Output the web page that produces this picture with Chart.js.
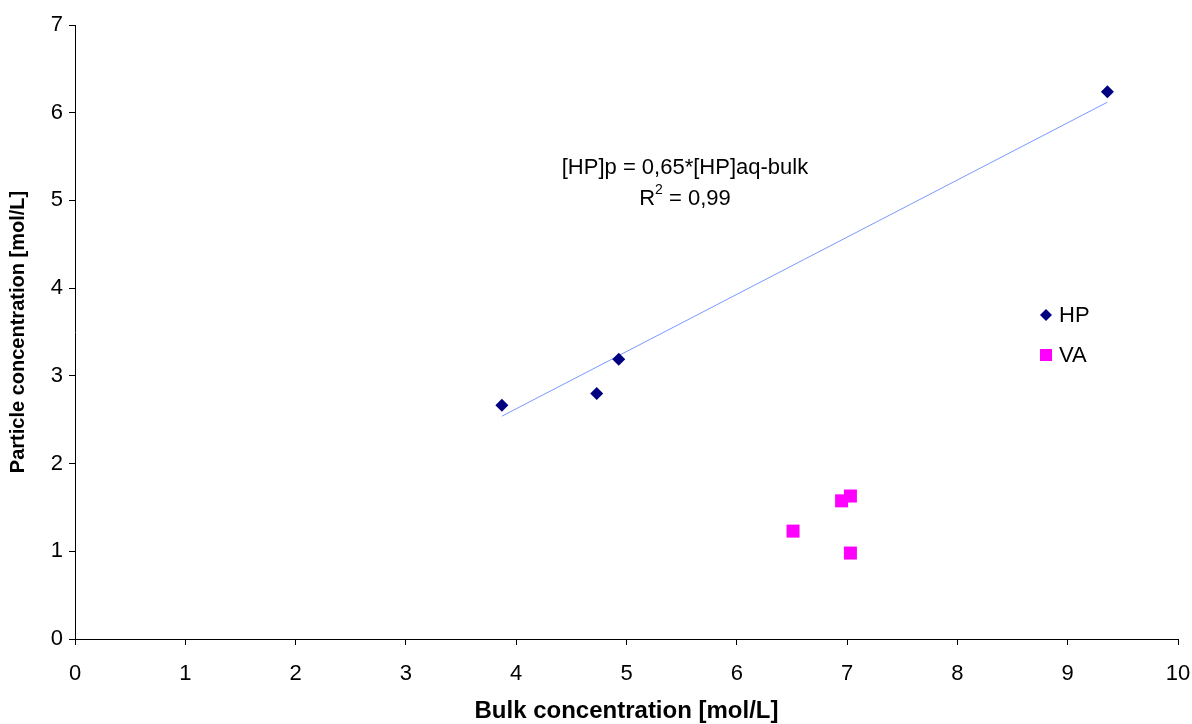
<!DOCTYPE html>
<html><head><meta charset="utf-8">
<script src="https://cdn.jsdelivr.net/npm/chart.js@4/dist/chart.umd.min.js"></script>
<style>html,body{margin:0;padding:0;background:#fff;}#wrap{width:1192px;height:724px;}</style>
</head><body><div id="wrap"><canvas id="c" width="1192" height="724"></canvas></div>
<script>
const hpX = [3.87, 4.73, 4.93, 9.36];
const hpY = [2.665, 2.80, 3.19, 6.24];
const vaX = [6.51, 6.95, 7.03, 7.03];
const vaY = [1.23, 1.575, 1.63, 0.98];
const trendX = [3.87, 9.36];
const trendY = [2.54, 6.12];
const seriesNames = ['HP', 'VA'];
const eqLine1 = '[HP]p = 0,65*[HP]aq-bulk';
const eqLine2 = '= 0,99';
const xTitle = 'Bulk concentration [mol/L]';
const yTitle = 'Particle concentration [mol/L]';

const FONT = "'Liberation Sans', Arial, sans-serif";
const toPts = (xs, ys) => xs.map((x, i) => ({x, y: ys[i]}));

const overlay = {
  id: 'overlay',
  afterDraw(chart) {
    const ctx = chart.ctx;
    const xs = chart.scales.x, ys = chart.scales.y;
    ctx.save();
    ctx.fillStyle = '#000';
    ctx.font = '22px ' + FONT;
    ctx.textAlign = 'center';
    ctx.textBaseline = 'middle';
    const cx = xs.getPixelForValue(5.53);
    ctx.fillText(eqLine1, cx, ys.getPixelForValue(5.37));
    const yR = ys.getPixelForValue(5.02);
    const wR = ctx.measureText('R').width;
    ctx.font = '14px ' + FONT;
    const w2 = ctx.measureText('2').width;
    ctx.font = '22px ' + FONT;
    const wRest = ctx.measureText(' ' + eqLine2).width;
    const total = wR + w2 + wRest;
    let sx = cx - total / 2;
    ctx.textAlign = 'left';
    ctx.fillText('R', sx, yR);
    ctx.font = '14px ' + FONT;
    ctx.fillText('2', sx + wR, yR - 9);
    ctx.font = '22px ' + FONT;
    ctx.fillText(' ' + eqLine2, sx + wR + w2, yR);
    // legend
    const lx = 1046;
    const items = [
      {name: seriesNames[0], ds: chart.data.datasets[0], y: 315},
      {name: seriesNames[1], ds: chart.data.datasets[1], y: 355}
    ];
    items.forEach(it => {
      ctx.fillStyle = it.ds.backgroundColor;
      ctx.beginPath();
      if (it.ds.pointStyle === 'rectRot') {
        const r = 6;
        ctx.moveTo(lx, it.y - r); ctx.lineTo(lx + r, it.y); ctx.lineTo(lx, it.y + r); ctx.lineTo(lx - r, it.y);
        ctx.closePath();
      } else {
        ctx.rect(lx - 6, it.y - 6, 12, 12);
      }
      ctx.fill();
      ctx.fillStyle = '#000';
      ctx.font = '22px ' + FONT;
      ctx.textAlign = 'left';
      ctx.fillText(it.name, lx + 13, it.y + 1);
    });
    ctx.restore();
  }
};

new Chart(document.getElementById('c'), {
  type: 'scatter',
  data: {
    datasets: [
      {label: seriesNames[0], data: toPts(hpX, hpY), pointStyle: 'rectRot', pointRadius: 6.5, pointHoverRadius: 6.5,
       backgroundColor: '#000080', borderColor: '#000080', borderWidth: 0, order: 1},
      {label: seriesNames[1], data: toPts(vaX, vaY), pointStyle: 'rect', pointRadius: 9.2, pointHoverRadius: 9.2,
       backgroundColor: '#ff00ff', borderColor: '#ff00ff', borderWidth: 0, order: 1},
      {label: 'trend', data: toPts(trendX, trendY), showLine: true, pointRadius: 0, borderColor: '#7799ff',
       borderWidth: 1, fill: false, order: 2}
    ]
  },
  options: {
    responsive: false, animation: false, events: [],
    layout: {padding: {top: 25, right: 14, left: 0, bottom: 0}},
    plugins: {legend: {display: false}, tooltip: {enabled: false}},
    scales: {
      x: {
        type: 'linear', min: 0, max: 10,
        ticks: {stepSize: 1, color: '#000', font: {family: FONT, size: 22}, padding: 16, maxRotation: 0},
        grid: {display: true, drawOnChartArea: false, color: '#000', tickLength: 6},
        border: {color: '#000', width: 1},
        title: {display: true, text: xTitle, color: '#000', font: {family: FONT, size: 24, weight: 'bold'}, padding: {top: 0, bottom: -2}},
        afterFit(s) { s.height = 85; s.paddingLeft = 0; s.paddingRight = 0; }
      },
      y: {
        type: 'linear', min: 0, max: 7,
        ticks: {stepSize: 1, color: '#000', font: {family: FONT, size: 22}, padding: 6},
        grid: {display: true, drawOnChartArea: false, color: '#000', tickLength: 6},
        border: {color: '#000', width: 1},
        title: {display: true, text: yTitle, color: '#000', font: {family: FONT, size: 20, weight: 'bold'}, padding: {top: 6, bottom: 4}},
        afterFit(s) { s.width = 75; s.paddingTop = 0; s.paddingBottom = 0; }
      }
    }
  },
  plugins: [overlay]
});
</script></body></html>
